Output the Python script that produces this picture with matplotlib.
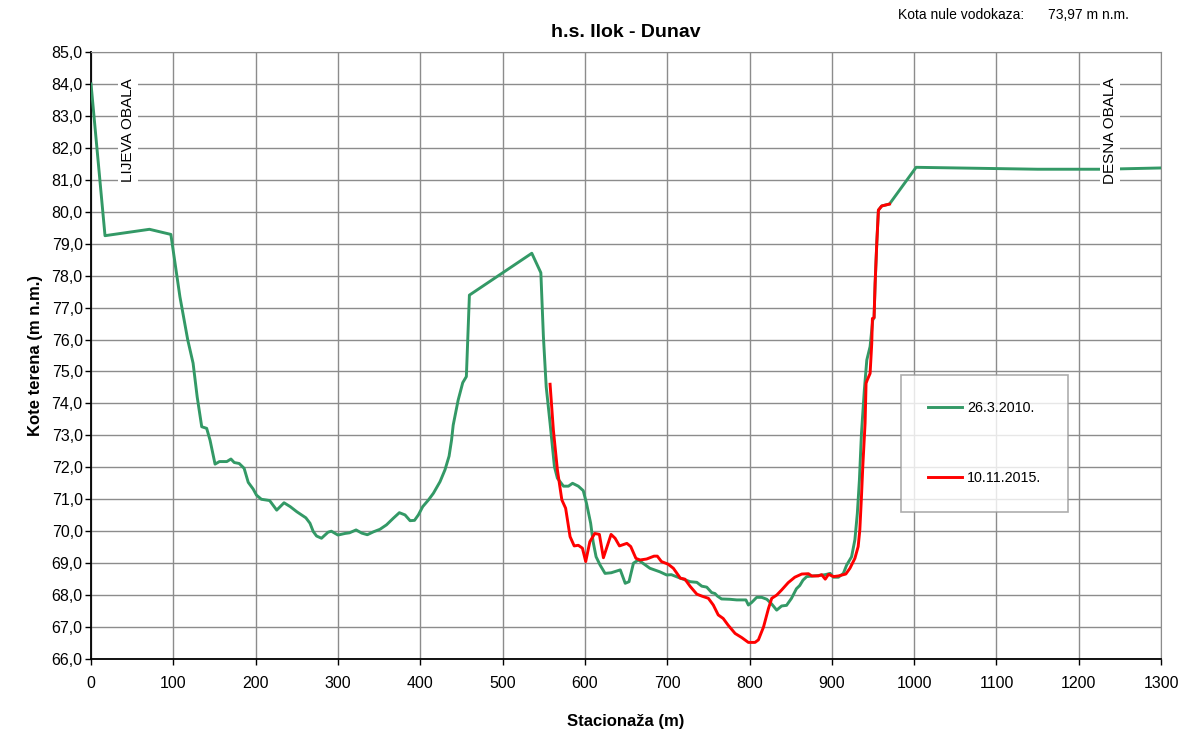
import matplotlib.pyplot as plt
from matplotlib.ticker import FuncFormatter, MultipleLocator

plt.rcParams['font.family'] = ['Liberation Sans', 'DejaVu Sans']

# profil 26.3.2010.
st_2010 = [0, 17, 71, 97, 108, 117.5, 124, 129, 134.5, 140.5, 144.6, 150.7, 156, 165, 170,
           174, 180, 186, 191, 197, 201, 207, 217, 225.6, 234.5, 242, 250, 261, 266, 270,
           274, 280, 288, 292, 300, 308.6, 314, 322, 329, 335.7, 343, 351, 359, 367, 374.6,
           381.5, 387.6, 393, 397.7, 403, 410, 416, 424, 430, 435, 438, 440, 446, 451.6, 456,
           459.7, 535.5, 546.5, 549.6, 553, 557.7, 563, 566.6, 574, 580, 585, 592, 598, 602,
           607, 610, 613.6, 618.5, 624.5, 632, 643, 649, 653.6, 659, 665, 679, 691, 699.4,
           705, 716, 728, 736, 742, 748, 754, 758, 761, 766, 776, 784.5, 792.6, 795.6, 798.6,
           802.6, 808.7, 814.8, 821, 827, 833, 839, 845, 851, 857, 861, 865, 869.5, 877.6,
           885.7, 892, 898, 902, 908, 914, 918, 924, 928, 931, 933.5, 936, 939.5, 942.5,
           946.5, 949.7, 951.3, 952.6, 954.6, 956.6, 960.6, 970, 1002.4, 1150, 1230, 1300]
kota_2010 = [84.0, 79.25, 79.45, 79.29, 77.34, 75.99, 75.26, 74.2, 73.27, 73.22, 72.85, 72.1,
             72.18, 72.18, 72.26, 72.15, 72.12, 71.97, 71.53, 71.32, 71.13, 71.0, 70.96, 70.66,
             70.89, 70.77, 70.61, 70.42, 70.25, 69.99, 69.85, 69.78, 69.97, 70.0, 69.88, 69.93,
             69.95, 70.04, 69.94, 69.89, 69.98, 70.06, 70.2, 70.4, 70.58, 70.51, 70.33, 70.34,
             70.51, 70.77, 70.98, 71.19, 71.55, 71.92, 72.35, 72.85, 73.32, 74.1, 74.65, 74.84,
             77.39, 78.7, 78.09, 76.09, 74.52, 73.38, 72.02, 71.66, 71.41, 71.41, 71.5, 71.41,
             71.27, 70.87, 70.25, 69.67, 69.2, 68.94, 68.68, 68.7, 68.79, 68.37, 68.42, 69.0,
             69.1, 68.84, 68.73, 68.63, 68.64, 68.53, 68.42, 68.4, 68.28, 68.25, 68.08, 68.05,
             67.97, 67.88, 67.87, 67.85, 67.85, 67.85, 67.69, 67.77, 67.93, 67.93, 67.87, 67.72,
             67.53, 67.66, 67.68, 67.9, 68.2, 68.3, 68.47, 68.58, 68.6, 68.62, 68.64, 68.68,
             68.56, 68.56, 68.68, 68.94, 69.2, 69.73, 70.56, 71.6, 73.06, 74.42, 75.36, 75.78,
             76.61, 76.68, 77.76, 79.01, 80.05, 80.18, 80.24, 81.39, 81.33, 81.33, 81.37]

# profil 10.11.2015.
st_2015 = [557.7, 561.7, 566.6, 572, 576.6, 582, 587, 592, 597, 601, 606, 612, 617.6, 622.5,
           631.8, 636.7, 642, 651, 655.7, 662, 667, 675, 684, 688, 693, 701, 707.5, 716, 721.5,
           728, 736, 742, 750, 756, 762, 768, 774, 782.5, 790.6, 798.6, 806.7, 810.8, 817, 823,
           827, 833, 839, 847, 855, 863.5, 871.6, 875.5, 883.6, 887.6, 892, 896, 902, 908, 917,
           922, 928, 932, 934, 936, 937.6, 940.4, 941.6, 943, 946.5, 948.5, 949.3, 951.3, 952.6,
           954.6, 956.6, 960.6, 970]
kota_2015 = [74.6, 73.17, 71.92, 70.98, 70.72, 69.83, 69.54, 69.56, 69.47, 69.05, 69.67, 69.93,
             69.9, 69.17, 69.9, 69.78, 69.54, 69.62, 69.52, 69.15, 69.1, 69.13, 69.22, 69.22,
             69.05, 68.97, 68.84, 68.53, 68.5, 68.27, 68.03, 67.97, 67.9, 67.69, 67.38, 67.27,
             67.06, 66.8, 66.67, 66.52, 66.52, 66.6, 67.0, 67.58, 67.9, 68.0, 68.16, 68.39,
             68.56, 68.66, 68.67, 68.6, 68.6, 68.64, 68.5, 68.65, 68.58, 68.6, 68.66, 68.84,
             69.15, 69.52, 70.04, 71.08, 72.02, 73.38, 74.63, 74.73, 74.94, 75.88, 76.66, 76.68,
             77.76, 79.01, 80.05, 80.18, 80.24]

fig = plt.figure(figsize=(11.82, 7.29), dpi=100)
ax = fig.add_axes([0.077, 0.096, 0.9053, 0.8327])

ax.plot(st_2010, kota_2010, color='#339966', lw=2.1, label='26.3.2010.', zorder=3)
ax.plot(st_2015, kota_2015, color='#ff0000', lw=2.1, label='10.11.2015.', zorder=4)

ax.set_xlim(0, 1300)
ax.set_ylim(66, 85)
ax.xaxis.set_major_locator(MultipleLocator(100))
ax.yaxis.set_major_locator(MultipleLocator(1))
ax.yaxis.set_major_formatter(FuncFormatter(lambda v, p: f"{v:.1f}".replace('.', ',')))
ax.grid(True, color='#8c8c8c', lw=1.0)
ax.set_axisbelow(True)
ax.tick_params(labelsize=11.5, length=4.5, width=1.0)
ax.tick_params(axis='y', pad=1.5)
ax.tick_params(axis='x', pad=8)
for s in ['top', 'right']:
    ax.spines[s].set_color('#8c8c8c')
for s in ['left', 'bottom']:
    ax.spines[s].set_linewidth(1.3)

ax.set_title('h.s. Ilok - Dunav', fontsize=14, fontweight='bold', pad=11)
ax.set_xlabel('Stacionaža (m)', fontsize=12, fontweight='bold', labelpad=16)
ax.set_ylabel('Kote terena (m n.m.)', fontsize=12, fontweight='bold', labelpad=6)

box = dict(facecolor='white', edgecolor='none', pad=2)
ax.text(45, 82.55, 'LIJEVA OBALA', rotation=90, fontsize=11, ha='center', va='center',
        bbox=box, zorder=5)
ax.text(1238, 82.55, 'DESNA OBALA', rotation=90, fontsize=11, ha='center', va='center',
        bbox=box, zorder=5)

leg = ax.legend(loc='upper left', bbox_to_anchor=(0.757, 0.468), fontsize=10.3,
                frameon=True, fancybox=False, borderpad=1.85, labelspacing=3.9,
                handlelength=2.4, handletextpad=0.35, borderaxespad=0)
leg.get_frame().set_edgecolor('#999999')
leg.get_frame().set_linewidth(1.2)
leg.set_zorder(6)

fig.text(0.76, 0.979, 'Kota nule vodokaza:', fontsize=10, ha='left', va='center')
fig.text(0.887, 0.979, '73,97 m n.m.', fontsize=10, ha='left', va='center')

fig.savefig('out.png', dpi=100)
